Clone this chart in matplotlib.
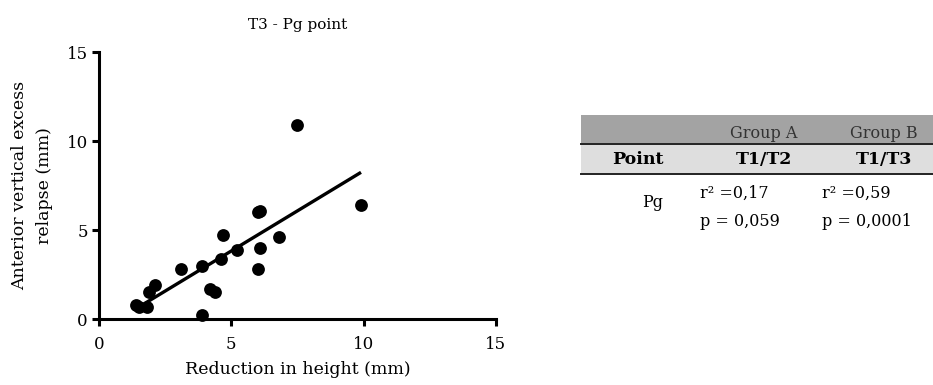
import matplotlib
matplotlib.use("Agg")
import matplotlib.pyplot as plt
from matplotlib.patches import Rectangle

# ---- data ----
reduction_mm = [1.4, 1.5, 1.8, 1.9, 2.1, 3.1, 3.9, 3.9, 4.2, 4.4, 4.6, 4.7,
                5.2, 6.0, 6.0, 6.1, 6.1, 6.8, 7.5, 9.9]
relapse_mm = [0.8, 0.7, 0.7, 1.5, 1.9, 2.8, 3.0, 0.2, 1.7, 1.5, 3.4, 4.7,
              3.9, 2.8, 6.0, 6.1, 4.0, 4.6, 10.9, 6.4]
fit_x = [1.7, 9.9]
fit_y = [0.85, 8.25]
x_ticks = [0, 5, 10, 15]
y_ticks = [0, 5, 10, 15]

table_groups = ["", "Group A", "Group B"]
table_header = ["Point", "T1/T2", "T1/T3"]
table_point = "Pg"
table_r2 = ["0,17", "0,59"]
table_p = ["0,059", "0,0001"]

FONT = "DejaVu Serif"
plt.rcParams["font.family"] = [FONT]

fig = plt.figure(figsize=(9.33, 3.85), dpi=100)
ax = fig.add_axes([0.1061, 0.1714, 0.4255, 0.6927])

ax.scatter(reduction_mm, relapse_mm, s=85, color="black", zorder=3, clip_on=False,
           linewidths=0)
ax.plot(fit_x, fit_y, color="black", lw=2.4, solid_capstyle="butt", zorder=2)

ax.set_xlim(0, 15)
ax.set_ylim(0, 15)
ax.set_xticks(x_ticks)
ax.set_yticks(y_ticks)
for s in ["top", "right"]:
    ax.spines[s].set_visible(False)
for s in ["left", "bottom"]:
    ax.spines[s].set_linewidth(2.2)
ax.tick_params(axis="both", direction="out", length=5, width=2.2, labelsize=12)
ax.tick_params(axis="x", pad=7)
ax.tick_params(axis="y", pad=3)
ax.set_xlabel("Reduction in height (mm)", fontsize=12.5, labelpad=6)
ax.set_ylabel("Anterior vertical excess\nrelapse (mm)", fontsize=12.5, labelpad=10,
              linespacing=1.55)
ax.set_title("T3 - Pg point", fontsize=11, pad=17)

# ---- table ----
W, H = 933.0, 385.0
def fx(px): return px / W
def fy(py): return 1 - py / H

x0, x1 = 581, 933
fig.patches.append(Rectangle((fx(x0), fy(143)), fx(x1) - fx(x0), fy(115) - fy(143),
                             transform=fig.transFigure, color="#a3a3a3", lw=0))
fig.patches.append(Rectangle((fx(x0), fy(173)), fx(x1) - fx(x0), fy(144) - fy(173),
                             transform=fig.transFigure, color="#dedede", lw=0))
for yy in (143.5, 173.5):
    fig.add_artist(plt.Line2D([fx(x0), fx(x1)], [fy(yy), fy(yy)], color="#222222",
                              lw=1.4, transform=fig.transFigure))

col_cx = [638, 764, 884]
for cx, g in zip(col_cx, table_groups):
    if g:
        fig.text(fx(cx), fy(133), g, ha="center", va="center", fontsize=11.5,
                 color="#333333")
for cx, h in zip(col_cx, table_header):
    fig.text(fx(cx), fy(160), h, ha="center", va="center", fontsize=12.5,
             fontweight="bold", color="black")
fig.text(fx(653), fy(203), table_point, ha="center", va="center", fontsize=11.5)
col_lx = [700, 822]
for lx, r2, p in zip(col_lx, table_r2, table_p):
    fig.text(fx(lx), fy(193), "r\u00b2 =" + r2, ha="left", va="center", fontsize=11.5)
    fig.text(fx(lx), fy(221), "p = " + p, ha="left", va="center", fontsize=11.5)

fig.savefig("out.png", dpi=100)
